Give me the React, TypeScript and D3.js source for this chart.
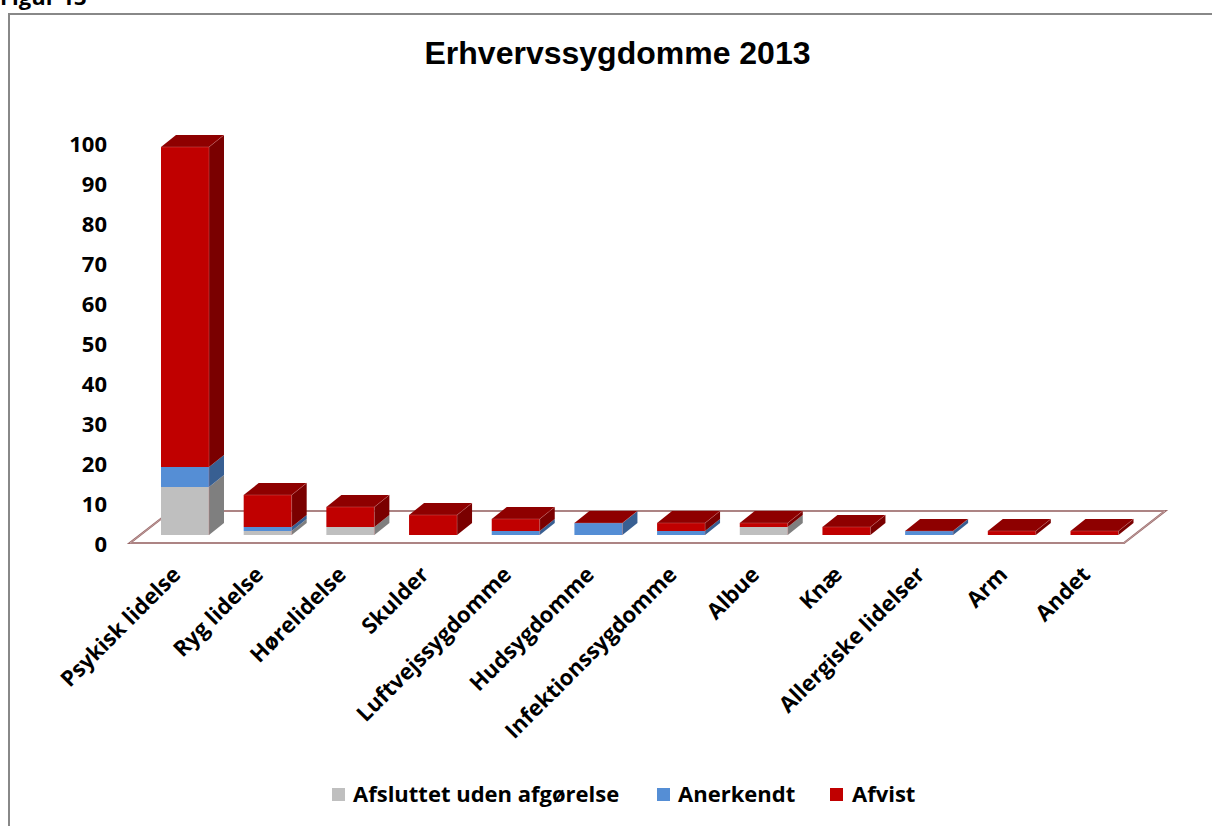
import React from "react";
import * as d3 from "d3";

const categories = [
  "Psykisk lidelse",
  "Ryg lidelse",
  "Hørelidelse",
  "Skulder",
  "Luftvejssygdomme",
  "Hudsygdomme",
  "Infektionssygdomme",
  "Albue",
  "Knæ",
  "Allergiske lidelser",
  "Arm",
  "Andet",
];
const afsluttet = [12, 1, 2, 0, 0, 0, 0, 2, 0, 0, 0, 0];
const anerkendt = [5, 1, 0, 0, 1, 3, 1, 0, 0, 1, 0, 0];
const afvist = [80, 8, 5, 5, 3, 0, 2, 1, 2, 0, 1, 1];
const yTicks = [0, 10, 20, 30, 40, 50, 60, 70, 80, 90, 100];
const seriesNames = ["Afsluttet uden afgørelse", "Anerkendt", "Afvist"];

const W = 1212;
const H = 826;
const FONT = "'Open Sans', sans-serif";

const colors = [
  { front: "#BFBFBF", side: "#7F7F7F", top: "#A5A5A5" },
  { front: "#558ED5", side: "#385F92", top: "#3F6CA6" },
  { front: "#C00000", side: "#7A0000", top: "#8E0000" },
];

export default function App() {
  const x = d3.scalePoint<string>().domain(categories).range([185, 1094.5]);
  const yBar = d3.scaleLinear().domain([0, 100]).range([535, 135]);
  const yAxis = d3.scaleLinear().domain([0, 100]).range([544, 144]);
  const bw = 48;
  const ddx = 15;
  const ddy = -12;

  const series = [afsluttet, anerkendt, afvist];

  // floor
  const fx0 = 130, fx1 = 1124, fy = 543, fdx = 41, fdy = -32;
  const floorPath = `M${fx0},${fy} L${fx1},${fy} L${fx1 + fdx},${fy + fdy} L${fx0 + fdx},${fy + fdy} Z`;

  const bars = categories.map((c, i) => {
    const cx = x(c)!;
    const left = cx - bw / 2;
    const right = cx + bw / 2;
    let cum = 0;
    const parts: React.ReactNode[] = [];
    series.forEach((s, si) => {
      const v = s[i];
      if (v <= 0) return;
      const y0 = yBar(cum);
      const y1 = yBar(cum + v);
      cum += v;
      parts.push(
        <g key={si}>
          <rect x={left} y={y1} width={bw} height={y0 - y1} fill={colors[si].front} />
          <path
            d={`M${right},${y0} L${right + ddx},${y0 + ddy} L${right + ddx},${y1 + ddy} L${right},${y1} Z`}
            fill={colors[si].side}
          />
        </g>
      );
    });
    const yt = yBar(cum);
    parts.push(
      <path
        key="top"
        d={`M${left},${yt} L${right},${yt} L${right + ddx},${yt + ddy} L${left + ddx},${yt + ddy} Z`}
        fill={colors[2].top}
      />
    );
    parts.push(
      <path
        key="edge"
        d={`M${left},${yt} L${right},${yt} L${right + ddx},${yt + ddy} M${right},${yt} L${right},${yBar(0)}`}
        fill="none"
        stroke="#d08080"
        strokeOpacity={0.5}
        strokeWidth={0.7}
      />
    );
    return <g key={c}>{parts}</g>;
  });

  const legendItems = [
    { x: 332, tx: 353 },
    { x: 657, tx: 678 },
    { x: 830, tx: 852 },
  ];

  return (
    <svg
      width={W}
      height={H}
      style={{ position: "absolute", left: 0, top: 0, background: "#fff" }}
    >
      <text x={0} y={5} fontFamily={FONT} fontWeight="bold" fontSize={22} fill="#000">
        Figur 13
      </text>
      <path d={`M9,${H + 2} V14 H${W + 2}`} fill="none" stroke="#888" strokeWidth={2} />
      <text
        x={617.5}
        y={64}
        textAnchor="middle"
        fontFamily="'Liberation Sans', Arial, sans-serif"
        fontWeight="bold"
        fontSize={32}
        fill="#000"
      >
        Erhvervssygdomme 2013
      </text>

      {yTicks.map((t) => (
        <text
          key={t}
          x={107}
          y={yAxis(t)}
          dy="0.35em"
          textAnchor="end"
          fontFamily={FONT}
          fontWeight="bold"
          fontSize={22}
          fill="#000"
        >
          {t}
        </text>
      ))}

      <path d={floorPath} fill="none" stroke="#9B6B6B" strokeWidth={2.2} />
      <path d={floorPath} fill="none" stroke="#D9BFBF" strokeWidth={0.6} />

      {bars}

      {categories.map((c) => {
        const cx = x(c)!;
        return (
          <text
            key={c}
            transform={`translate(${cx - 3},${576}) rotate(-45)`}
            textAnchor="end"
            fontFamily={FONT}
            fontWeight="bold"
            fontSize={22}
            fill="#000"
          >
            {c}
          </text>
        );
      })}

      {seriesNames.map((n, i) => (
        <g key={n}>
          <rect x={legendItems[i].x} y={788} width={13} height={13} fill={colors[i].front} />
          <text
            x={legendItems[i].tx}
            y={802}
            fontFamily={FONT}
            fontWeight="bold"
            fontSize={22}
            fill="#000"
          >
            {n}
          </text>
        </g>
      ))}
    </svg>
  );
}
